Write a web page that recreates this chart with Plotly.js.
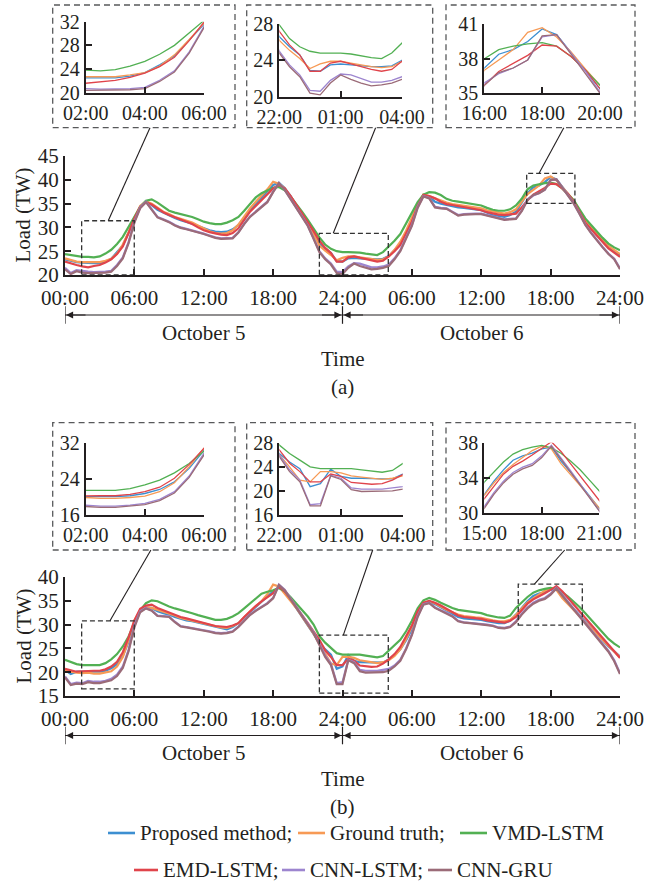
<!DOCTYPE html>
<html>
<head>
<meta charset="utf-8">
<script src="https://cdn.plot.ly/plotly-3.0.1.min.js"></script>
<style>
  html, body { margin: 0; padding: 0; background: #ffffff; }
  #chart { width: 656px; height: 882px; }
</style>
</head>
<body>
<div id="chart"></div>
<script>
// ---- Half-hourly load over two days (hours from 00:00, October 5) ----
const HOURS = [
  0, 0.5, 1, 1.5, 2, 2.5, 3, 3.5, 4, 4.5, 5, 5.5, 6, 6.5, 7, 7.5,
  8, 8.5, 9, 9.5, 10, 10.5, 11, 11.5, 12, 12.5, 13, 13.5, 14, 14.5, 15, 15.5,
  16, 16.5, 17, 17.5, 18, 18.5, 19, 19.5, 20, 20.5, 21, 21.5, 22, 22.5, 23, 23.5,
  24, 24.5, 25, 25.5, 26, 26.5, 27, 27.5, 28, 28.5, 29, 29.5, 30, 30.5, 31, 31.5,
  32, 32.5, 33, 33.5, 34, 34.5, 35, 35.5, 36, 36.5, 37, 37.5, 38, 38.5, 39, 39.5,
  40, 40.5, 41, 41.5, 42, 42.5, 43, 43.5, 44, 44.5, 45, 45.5, 46, 46.5, 47, 47.5,
  48
];

// Panel (a)
const A_PROPOSED = [
  23.3, 23.0, 22.7, 22.6, 22.5, 22.5, 22.5, 22.8, 23.4, 24.7, 26.2, 28.9, 31.7, 34.2, 35.4, 34.7,
  33.7, 33.1, 32.6, 32.0, 31.5, 31.2, 30.8, 30.3, 29.8, 29.4, 29.1, 29.0, 29.1, 29.6, 30.5, 32.0,
  33.6, 35.0, 36.3, 37.6, 38.9, 39.4, 38.3, 36.6, 34.7, 32.8, 30.9, 28.8, 26.6, 25.5, 24.6, 22.9,
  22.8, 23.5, 23.6, 23.5, 23.4, 23.3, 23.3, 23.4, 24.0, 25.2, 26.6, 29.0, 31.5, 34.5, 36.8, 36.4,
  35.4, 35.0, 34.7, 34.4, 34.2, 34.1, 34.0, 33.8, 33.6, 33.1, 32.6, 32.4, 32.2, 32.6, 33.3, 35.2,
  37.2, 38.4, 38.8, 39.5, 40.6, 40.1, 38.5, 37.0, 35.4, 33.3, 31.2, 29.8, 28.4, 27.1, 25.9, 25.0,
  24.2
];
const A_TRUTH = [
  23.5, 23.1, 22.8, 22.7, 22.7, 22.7, 22.7, 23.0, 23.4, 24.5, 26.4, 29.0, 32.0, 34.5, 35.5, 35.0,
  34.1, 33.3, 32.8, 32.2, 31.8, 31.4, 31.0, 30.4, 29.8, 29.2, 28.8, 28.7, 28.8, 29.4, 30.6, 32.3,
  34.0, 35.4, 36.7, 38.0, 39.6, 39.2, 38.2, 36.5, 34.6, 32.7, 30.8, 28.6, 26.2, 25.1, 24.2, 23.1,
  23.6, 23.9, 23.9, 23.7, 23.5, 23.3, 23.2, 23.3, 23.9, 25.3, 27.0, 29.3, 31.9, 34.8, 36.9, 36.6,
  36.1, 35.6, 35.2, 34.9, 34.7, 34.5, 34.3, 34.2, 34.0, 33.6, 33.3, 33.1, 32.9, 33.2, 33.8, 35.3,
  37.0, 37.9, 38.8, 40.3, 40.7, 39.9, 38.6, 37.1, 35.7, 33.6, 31.4, 30.0, 28.6, 27.3, 26.1, 25.2,
  24.4
];
const A_VMD = [
  24.4, 24.2, 24.0, 23.8, 23.8, 23.7, 23.9, 24.5, 25.3, 26.5, 28.0, 30.0, 32.0, 34.3, 35.6, 35.9,
  35.2, 34.3, 33.5, 33.1, 32.8, 32.6, 32.2, 31.7, 31.2, 30.9, 30.7, 30.7, 31.0, 31.5, 32.2, 33.5,
  35.0, 36.3, 37.2, 37.8, 38.3, 38.5, 37.8, 36.5, 35.0, 33.3, 31.6, 29.8, 27.9, 26.4, 25.5, 25.0,
  24.8, 24.8, 24.8, 24.7, 24.5, 24.3, 24.2, 24.8, 25.9, 27.2, 28.6, 30.8, 33.0, 35.3, 36.9, 37.4,
  37.3, 36.8, 36.0, 35.6, 35.4, 35.2, 35.0, 34.8, 34.6, 34.1, 33.7, 33.5, 33.5, 33.8, 34.6, 36.0,
  38.0, 38.8, 39.1, 39.3, 39.4, 39.1, 38.2, 37.0, 35.7, 33.8, 31.9, 30.5, 29.1, 27.8, 26.6, 25.8,
  25.2
];
const A_EMD = [
  22.8, 22.4, 22.1, 21.8, 21.6, 21.9, 22.1, 22.6, 23.3, 24.4, 26.0, 28.8, 31.9, 34.3, 35.3, 34.8,
  34.0, 33.2, 32.6, 32.1, 31.7, 31.2, 30.7, 30.0, 29.4, 29.0, 28.7, 28.5, 28.4, 28.8, 29.8, 31.5,
  33.3, 34.5, 35.7, 37.0, 38.2, 38.9, 38.2, 36.6, 34.8, 33.0, 31.1, 29.2, 27.2, 25.7, 24.6, 22.8,
  22.8, 23.7, 23.9, 23.6, 23.3, 23.0, 22.8, 23.0, 23.9, 25.0, 26.3, 28.7, 31.2, 34.5, 36.8, 36.6,
  36.1, 35.4, 34.9, 34.7, 34.5, 34.2, 34.0, 33.8, 33.6, 33.2, 32.9, 32.7, 32.6, 32.7, 32.9, 34.2,
  35.7, 36.9, 37.6, 38.3, 39.2, 39.1, 38.2, 37.0, 35.4, 33.3, 31.0, 29.6, 28.2, 26.9, 25.6, 24.7,
  23.8
];
const A_CNNLSTM = [
  21.5, 20.4, 21.0, 20.8, 20.7, 20.6, 20.6, 20.7, 20.9, 22.1, 23.7, 26.9, 31.2, 34.2, 35.4, 33.8,
  32.2, 31.7, 31.2, 30.5, 30.0, 29.7, 29.4, 29.0, 28.7, 28.3, 27.9, 27.7, 27.7, 27.8, 29.0, 30.8,
  32.3, 33.3, 34.2, 35.4, 37.5, 39.3, 37.9, 36.1, 34.2, 32.3, 30.4, 27.8, 25.0, 23.5, 22.4, 20.7,
  20.6, 21.8, 22.5, 22.4, 22.0, 21.6, 21.6, 21.8, 22.2, 23.5, 25.2, 27.7, 30.5, 34.3, 36.6, 36.2,
  34.3, 34.1, 34.0, 33.3, 32.6, 32.8, 32.9, 32.9, 32.9, 32.6, 32.2, 31.9, 31.7, 31.8, 31.9, 33.5,
  35.9, 36.7, 37.2, 37.9, 39.9, 40.1, 38.5, 36.9, 35.1, 32.9, 30.6, 28.9, 27.3, 25.9, 24.5, 23.4,
  21.4
];
const A_CNNGRU = [
  21.2, 20.2, 20.8, 20.5, 20.4, 20.4, 20.4, 20.5, 20.7, 21.9, 23.5, 26.7, 31.0, 34.0, 35.3, 33.7,
  32.1, 31.6, 31.1, 30.4, 29.9, 29.6, 29.3, 28.9, 28.6, 28.2, 27.8, 27.6, 27.6, 27.7, 28.9, 30.7,
  32.2, 33.2, 34.1, 35.3, 37.4, 39.3, 37.9, 36.0, 34.1, 32.2, 30.3, 27.6, 24.8, 23.3, 22.2, 20.4,
  20.2, 21.5, 22.4, 21.9, 21.5, 21.2, 21.3, 21.5, 21.9, 23.3, 25.0, 27.5, 30.3, 34.1, 36.5, 36.1,
  34.2, 34.0, 33.9, 33.2, 32.5, 32.7, 32.8, 32.8, 32.8, 32.5, 32.1, 31.8, 31.6, 31.7, 31.8, 33.4,
  35.7, 36.8, 37.2, 37.9, 40.0, 40.1, 38.4, 36.8, 35.0, 32.8, 30.5, 28.8, 27.2, 25.8, 24.4, 23.3,
  21.2
];

// Panel (b)
const B_PROPOSED = [
  20.5, 19.6, 20.1, 20.1, 20.1, 20.1, 20.1, 20.3, 20.8, 21.7, 23.4, 26.4, 30.4, 32.8, 33.5, 33.5,
  32.8, 32.4, 32.1, 31.6, 31.2, 30.9, 30.7, 30.4, 30.2, 29.8, 29.5, 29.2, 29.0, 29.5, 30.3, 31.5,
  32.6, 33.8, 34.9, 35.9, 37.0, 37.8, 37.0, 35.3, 33.5, 31.7, 30.0, 28.2, 26.2, 24.8, 23.7, 20.7,
  21.2, 23.6, 22.4, 22.1, 22.1, 22.0, 22.0, 22.0, 22.7, 23.6, 24.8, 26.7, 29.0, 32.2, 34.3, 34.8,
  34.3, 33.6, 32.9, 32.2, 31.6, 31.3, 31.2, 31.1, 31.0, 30.7, 30.5, 30.3, 30.3, 30.8, 32.1, 33.6,
  34.9, 36.0, 36.5, 36.8, 37.3, 37.5, 35.9, 34.6, 33.3, 31.9, 30.5, 29.2, 27.9, 26.6, 25.4, 24.4,
  23.3
];
const B_TRUTH = [
  20.5, 20.1, 19.9, 19.8, 19.9, 19.7, 19.7, 19.9, 20.2, 21.2, 23.2, 26.8, 30.9, 33.0, 33.6, 33.5,
  33.1, 32.8, 32.4, 31.9, 31.4, 31.1, 30.9, 30.6, 30.3, 29.9, 29.6, 29.4, 29.3, 29.7, 30.3, 31.6,
  32.8, 33.9, 34.9, 36.4, 38.4, 38.0, 36.6, 35.0, 33.5, 31.7, 30.0, 28.1, 26.0, 24.0, 21.8, 21.5,
  23.2, 23.2, 23.0, 22.5, 22.3, 22.1, 21.9, 22.1, 22.5, 23.4, 24.8, 27.0, 29.6, 32.6, 34.6, 34.9,
  34.5, 33.8, 33.1, 32.6, 32.1, 31.8, 31.6, 31.5, 31.4, 31.1, 30.9, 30.7, 30.7, 31.0, 32.0, 33.4,
  34.6, 35.5, 36.3, 37.1, 37.6, 37.3, 35.6, 34.4, 33.1, 31.8, 30.5, 29.3, 28.0, 26.7, 25.5, 24.4,
  23.1
];
const B_VMD = [
  22.6, 22.1, 21.7, 21.5, 21.5, 21.4, 21.5, 21.9, 22.7, 23.8, 25.4, 27.5, 30.4, 33.0, 34.5, 35.1,
  34.9, 34.3, 33.8, 33.4, 33.1, 32.8, 32.4, 32.0, 31.7, 31.3, 31.0, 31.0, 31.2, 31.7, 32.4, 33.4,
  34.5, 35.6, 36.5, 36.9, 37.2, 37.7, 37.0, 35.8, 34.5, 33.1, 31.7, 30.0, 27.6, 26.2, 25.1, 24.0,
  23.7, 23.7, 23.8, 23.7, 23.5, 23.3, 23.1, 23.4, 24.5, 25.6, 26.8, 28.6, 30.8, 33.4, 35.1, 35.6,
  35.2, 34.6, 34.0, 33.5, 33.1, 32.9, 32.8, 32.6, 32.4, 32.0, 31.7, 31.5, 31.4, 31.9, 33.5, 34.7,
  35.8, 36.7, 37.2, 37.5, 37.7, 37.4, 36.8, 35.9, 34.9, 33.7, 32.4, 31.0, 29.6, 28.2, 27.0, 26.0,
  25.2
];
const B_EMD = [
  20.7, 20.4, 20.1, 20.2, 20.3, 20.3, 20.3, 20.6, 21.2, 22.2, 24.2, 27.3, 30.9, 33.3, 34.0, 34.2,
  33.5, 33.0, 32.6, 32.1, 31.6, 31.3, 31.0, 30.6, 30.3, 30.0, 29.7, 29.6, 29.5, 29.8, 30.3, 31.6,
  32.8, 33.9, 34.9, 35.7, 36.6, 38.0, 37.0, 35.4, 33.8, 32.0, 30.3, 28.6, 26.8, 24.6, 23.2, 21.5,
  21.5, 22.8, 22.4, 21.4, 21.2, 21.1, 21.2, 21.8, 22.7, 23.8, 25.3, 27.4, 29.8, 32.8, 34.6, 35.0,
  34.6, 34.0, 33.3, 32.6, 31.9, 31.6, 31.5, 31.4, 31.2, 30.9, 30.7, 30.5, 30.4, 30.8, 31.6, 33.0,
  34.4, 35.3, 35.9, 36.6, 37.3, 38.1, 37.0, 35.6, 34.2, 32.8, 31.4, 30.0, 28.6, 27.2, 25.8, 24.4,
  23.0
];
const B_CNNLSTM = [
  19.1, 17.5, 17.8, 17.7, 18.2, 18.0, 18.0, 18.2, 18.6, 19.5, 21.2, 24.7, 29.8, 32.8, 33.5, 33.0,
  31.9, 31.8, 31.7, 30.6, 29.7, 29.5, 29.3, 29.1, 28.9, 28.6, 28.3, 28.2, 28.3, 28.6, 29.6, 30.9,
  32.1, 33.0, 33.8, 34.5, 35.6, 38.4, 37.3, 35.5, 33.8, 32.0, 30.3, 28.4, 26.0, 23.5, 21.8, 17.7,
  17.9, 22.6, 22.1, 20.5, 20.3, 20.3, 20.3, 20.5, 20.7, 21.4, 22.6, 25.0, 28.0, 31.8, 34.3, 34.6,
  33.6, 33.0, 32.5, 31.8, 30.8, 30.5, 30.4, 30.3, 30.2, 30.0, 29.8, 29.4, 29.3, 29.6, 30.7, 32.3,
  33.6, 34.6, 35.2, 35.6, 36.5, 37.7, 36.3, 34.8, 33.3, 31.9, 30.5, 29.0, 27.5, 26.0, 24.5, 22.5,
  19.8
];
const B_CNNGRU = [
  18.9, 17.3, 17.6, 17.5, 17.9, 17.7, 17.7, 18.0, 18.3, 19.2, 20.9, 24.4, 29.4, 32.6, 33.4, 32.9,
  31.8, 31.7, 31.6, 30.5, 29.6, 29.4, 29.2, 29.0, 28.8, 28.5, 28.2, 28.1, 28.2, 28.5, 29.5, 30.8,
  32.0, 32.9, 33.7, 34.4, 35.5, 38.3, 37.2, 35.4, 33.7, 31.9, 30.2, 28.2, 25.7, 23.2, 21.5, 17.5,
  17.5, 22.5, 21.9, 20.2, 19.9, 19.9, 19.9, 20.0, 20.3, 21.2, 22.4, 24.8, 27.8, 31.6, 34.2, 34.5,
  33.5, 32.9, 32.4, 31.7, 30.7, 30.4, 30.3, 30.2, 30.1, 29.9, 29.7, 29.3, 29.2, 29.5, 30.5, 32.1,
  33.4, 34.4, 35.0, 35.4, 36.3, 37.6, 36.1, 34.6, 33.1, 31.7, 30.2, 28.8, 27.3, 25.8, 24.3, 22.3,
  19.6
];

const SERIES_NAMES = ['Proposed method', 'Ground truth', 'VMD-LSTM', 'EMD-LSTM', 'CNN-LSTM', 'CNN-GRU'];
const LEGEND_TEXT = ['Proposed method;', 'Ground truth;', 'VMD-LSTM', 'EMD-LSTM;', 'CNN-LSTM;', 'CNN-GRU'];
const COLORS = ['#3d8fd1', '#f79a55', '#52b053', '#e0444b', '#9d85cf', '#9b6b78'];

// Axis ticks
const MAIN_TICKVALS = [0, 6, 12, 18, 24, 30, 36, 42, 48];
const MAIN_TICKTEXT = ['00:00', '06:00', '12:00', '18:00', '24:00', '06:00', '12:00', '18:00', '24:00'];
const A_MAIN_YTICKS = [20, 25, 30, 35, 40, 45];
const B_MAIN_YTICKS = [15, 20, 25, 30, 35, 40];

const A_IN1_X = [2, 4, 6],    A_IN1_XT = ['02:00', '04:00', '06:00'], A_IN1_Y = [20, 24, 28, 32];
const A_IN2_X = [22, 25, 28], A_IN2_XT = ['22:00', '01:00', '04:00'], A_IN2_Y = [20, 24, 28];
const A_IN3_X = [40, 42, 44], A_IN3_XT = ['16:00', '18:00', '20:00'], A_IN3_Y = [35, 38, 41];
const B_IN1_X = [2, 4, 6],    B_IN1_XT = ['02:00', '04:00', '06:00'], B_IN1_Y = [16, 24, 32];
const B_IN2_X = [22, 25, 28], B_IN2_XT = ['22:00', '01:00', '04:00'], B_IN2_Y = [16, 20, 24, 28];
const B_IN3_X = [39, 42, 45], B_IN3_XT = ['15:00', '18:00', '21:00'], B_IN3_Y = [30, 34, 38];

const DAY_LABELS = ['October 5', 'October 6'];

// ---------------------------------------------------------------------------
const W = 656, H = 882;
const FONT = 'Liberation Serif, Times New Roman, serif';
const INK = '#231f20';
const fx = p => p / W;          // pixel column -> paper x
const fy = p => 1 - p / H;      // pixel row    -> paper y

const panels = [
  { series: [A_PROPOSED, A_TRUTH, A_VMD, A_EMD, A_CNNLSTM, A_CNNGRU], axes: ['', '2', '3', '4'] },
  { series: [B_PROPOSED, B_TRUTH, B_VMD, B_EMD, B_CNNLSTM, B_CNNGRU], axes: ['5', '6', '7', '8'] }
];

const traces = [];
panels.forEach(panel => {
  panel.axes.forEach((id, k) => {
    panel.series.forEach((vals, s) => {
      traces.push({
        type: 'scatter', mode: 'lines',
        x: HOURS, y: vals, name: SERIES_NAMES[s],
        xaxis: 'x' + id, yaxis: 'y' + id,
        line: { color: COLORS[s], width: k === 0 ? 2.2 : 1.3 },
        hoverinfo: 'skip', showlegend: false
      });
    });
  });
});

function axisStyle(extra, size) {
  return Object.assign({
    showline: true, linecolor: INK, linewidth: 2,
    ticks: 'inside', ticklen: 6, tickwidth: 2, tickcolor: INK,
    showgrid: false, zeroline: false, fixedrange: true,
    tickfont: { family: FONT, size: size, color: INK },
    tickmode: 'array'
  }, extra);
}
// main plots use 21px tick labels, insets 20px
function xAx(l, r, range, vals, text, anchor, standoff, size) {
  return axisStyle({ domain: [fx(l), fx(r)], range: range, tickvals: vals, ticktext: text,
                     anchor: anchor, ticklabelstandoff: standoff }, size);
}
function yAx(b, t, range, vals, anchor, size) {
  return axisStyle({ domain: [fy(b), fy(t)], range: range, tickvals: vals, anchor: anchor }, size);
}

const layout = {
  width: W, height: H,
  margin: { l: 0, r: 0, t: 0, b: 0 },
  paper_bgcolor: '#ffffff', plot_bgcolor: 'rgba(0,0,0,0)',
  showlegend: false,
  font: { family: FONT, size: 21, color: INK },

  // panel (a)
  xaxis:  xAx(65, 620, [0, 48], MAIN_TICKVALS, MAIN_TICKTEXT, 'y', 3, 21),
  yaxis:  yAx(275, 156, [20, 45], A_MAIN_YTICKS, 'x', 21),
  xaxis2: xAx(85.7, 204, [2, 6], A_IN1_X, A_IN1_XT, 'y2', 1, 20),
  yaxis2: yAx(92.7, 21.7, [20, 32], A_IN1_Y, 'x2', 20),
  xaxis3: xAx(279.3, 402, [22, 28], A_IN2_X, A_IN2_XT, 'y3', 1, 20),
  yaxis3: yAx(96.7, 24, [20, 28], A_IN2_Y, 'x3', 20),
  xaxis4: xAx(484.3, 600, [40, 44], A_IN3_X, A_IN3_XT, 'y4', 1, 20),
  yaxis4: yAx(93.3, 24.3, [35, 41], A_IN3_Y, 'x4', 20),

  // panel (b)
  xaxis5: xAx(65, 620, [0, 48], MAIN_TICKVALS, MAIN_TICKTEXT, 'y5', 3, 21),
  yaxis5: yAx(696, 577, [15, 40], B_MAIN_YTICKS, 'x5', 21),
  xaxis6: xAx(85.7, 204, [2, 6], B_IN1_X, B_IN1_XT, 'y6', 1, 20),
  yaxis6: yAx(515, 443.3, [16, 32], B_IN1_Y, 'x6', 20),
  xaxis7: xAx(279.3, 402.7, [22, 28], B_IN2_X, B_IN2_XT, 'y7', 1, 20),
  yaxis7: yAx(515, 442.7, [16, 28], B_IN2_Y, 'x7', 20),
  xaxis8: xAx(484.3, 599.3, [39, 45], B_IN3_X, B_IN3_XT, 'y8', 1, 20),
  yaxis8: yAx(512.7, 442.7, [30, 38], B_IN3_Y, 'x8', 20),

  shapes: [], annotations: []
};

// data -> paper conversion for the two main plots
function dataToPaper(axId, xv, yv) {
  const xa = layout['xaxis' + axId], ya = layout['yaxis' + axId];
  const px = xa.domain[0] + (xv - xa.range[0]) / (xa.range[1] - xa.range[0]) * (xa.domain[1] - xa.domain[0]);
  const py = ya.domain[0] + (yv - ya.range[0]) / (ya.range[1] - ya.range[0]) * (ya.domain[1] - ya.domain[0]);
  return [px, py];
}

// Decorations for each panel: inset frames, zoom boxes, leader lines, day arrows, labels
const deco = [
  {
    axId: '', frameTop: 5, frameBottom: 127.7,
    zoomBoxes: [[1.44, 5.99, 20, 31.4], [22.0, 27.96, 20, 28.76], [39.93, 44.1, 35.06, 41.37]],
    leaders: [[3.74, 31.4, 150], [23.2, 28.76, 375.6], [41.0, 41.37, 563.8]],
    arrowRow: 315, dayRow: 332.7, timeRow: 359, tagRow: 386.7, tag: '(a)', loadRow: 215.5
  },
  {
    axId: '5', frameTop: 422.7, frameBottom: 550,
    zoomBoxes: [[1.44, 5.99, 16.5, 30.8], [22.0, 27.96, 15.6, 27.8], [39.2, 44.74, 29.9, 38.5]],
    leaders: [[3.89, 30.8, 150.9], [24.07, 27.8, 372.7], [40.6, 38.5, 564.7]],
    arrowRow: 735.5, dayRow: 752.7, timeRow: 779, tagRow: 806.7, tag: '(b)', loadRow: 636.5
  }
];
const FRAME_COLS = [[52.7, 235], [246.7, 432.7], [446, 635]];

deco.forEach(d => {
  const xr = 'x' + d.axId, yr = 'y' + d.axId;
  FRAME_COLS.forEach(c => {
    layout.shapes.push({ type: 'rect', xref: 'paper', yref: 'paper',
      x0: fx(c[0]), x1: fx(c[1]), y0: fy(d.frameBottom), y1: fy(d.frameTop),
      line: { color: '#58595b', width: 1.3, dash: '6px,4px' } });
  });
  d.zoomBoxes.forEach(b => {
    layout.shapes.push({ type: 'rect', xref: xr, yref: yr,
      x0: b[0], x1: b[1], y0: b[2], y1: b[3],
      line: { color: '#333333', width: 1.3, dash: '5px,3px' } });
  });
  d.leaders.forEach(l => {
    const p = dataToPaper(d.axId, l[0], l[1]);
    layout.shapes.push({ type: 'line', xref: 'paper', yref: 'paper',
      x0: p[0], y0: p[1], x1: fx(l[2]), y1: fy(d.frameBottom),
      line: { color: INK, width: 1.1 } });
  });
  // day span arrows
  layout.shapes.push({ type: 'line', xref: xr, yref: 'paper', x0: 0, x1: 48,
    y0: fy(d.arrowRow), y1: fy(d.arrowRow), line: { color: INK, width: 1.1 } });
  [0, 24, 48].forEach(t => {
    layout.shapes.push({ type: 'line', xref: xr, yref: 'paper', x0: t, x1: t,
      y0: fy(d.arrowRow + 8.8), y1: fy(d.arrowRow - 8.8), line: { color: INK, width: 1.2 } });
  });
  [[0, 22], [24, -22], [24, 22], [48, -22]].forEach(a => {
    layout.annotations.push({ xref: xr, yref: 'paper', x: a[0], y: fy(d.arrowRow),
      text: '', showarrow: true, ax: a[1], ay: 0, arrowhead: 2, arrowsize: 1.3,
      arrowwidth: 1.1, arrowcolor: INK, standoff: 1 });
  });
  DAY_LABELS.forEach((lab, i) => {
    layout.annotations.push({ xref: xr, yref: 'paper', x: 12 + 24 * i, y: fy(d.dayRow),
      text: lab, showarrow: false, xanchor: 'center', yanchor: 'middle',
      font: { family: FONT, size: 21, color: INK } });
  });
  layout.annotations.push({ xref: xr, yref: 'paper', x: 24, y: fy(d.timeRow), text: 'Time',
    showarrow: false, xanchor: 'center', yanchor: 'middle', font: { family: FONT, size: 21, color: INK } });
  layout.annotations.push({ xref: xr, yref: 'paper', x: 24, y: fy(d.tagRow), text: d.tag,
    showarrow: false, xanchor: 'center', yanchor: 'middle', font: { family: FONT, size: 21, color: INK } });
  layout.annotations.push({ xref: 'paper', yref: 'paper', x: fx(23), y: fy(d.loadRow), text: 'Load (TW)',
    textangle: -90, showarrow: false, xanchor: 'center', yanchor: 'middle',
    font: { family: FONT, size: 21, color: INK } });
});

// Legend drawn as two centred rows
const LEGEND_ROWS = [
  { y: 833, items: [[0, 108, 135], [1, 298, 325], [2, 460, 487]] },
  { y: 870, items: [[3, 134, 158], [4, 282, 305], [5, 428, 452]] }
];
LEGEND_ROWS.forEach(row => {
  row.items.forEach(it => {
    const s = it[0];
    layout.shapes.push({ type: 'line', xref: 'paper', yref: 'paper',
      x0: fx(it[1]), x1: fx(it[2]), y0: fy(row.y), y1: fy(row.y),
      line: { color: COLORS[s], width: 2.6 } });
    layout.annotations.push({ xref: 'paper', yref: 'paper', x: fx(it[2] + 3), y: fy(row.y),
      text: LEGEND_TEXT[s], showarrow: false, xanchor: 'left', yanchor: 'middle',
      font: { family: FONT, size: 21, color: INK } });
  });
});

Plotly.newPlot('chart', traces, layout, { staticPlot: true, displayModeBar: false });
</script>
</body>
</html>
